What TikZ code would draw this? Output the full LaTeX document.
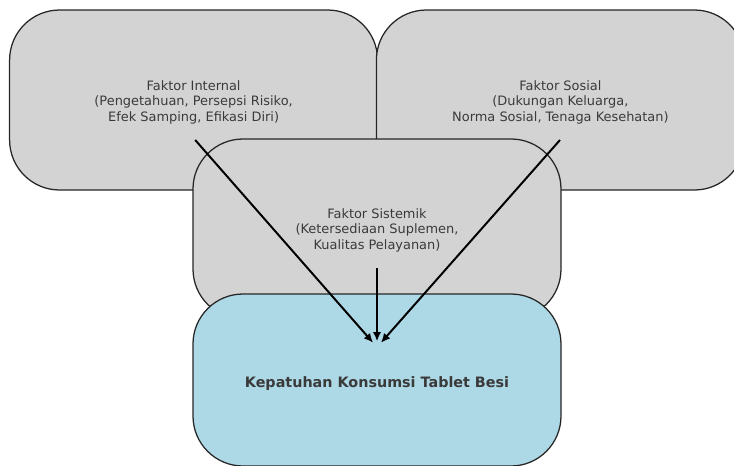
\documentclass[tikz,border=0pt]{standalone}
\usepackage{fontspec}
\setmainfont{DejaVu Sans}
\usetikzlibrary{arrows.meta}
\definecolor{boxgray}{HTML}{D3D3D3}
\definecolor{boxblue}{HTML}{ADD8E6}
\definecolor{textgray}{HTML}{3A3A3A}

\begin{document}
\begin{tikzpicture}[factor_node/.style={rectangle,rounded corners=1.25cm,draw=black!85,line width=0.9pt,fill=boxgray,minimum width=9.2cm,minimum height=4.5cm},
target_node/.style={factor_node,fill=boxblue,minimum height=4.3cm},
factor_text/.style={align=center,text=textgray,font=\fontsize{9.2}{11}\selectfont},
target_text/.style={text=textgray,font=\fontsize{10.2}{12}\selectfont\bfseries},
arrow_line/.style={-{Latex[length=2.3mm,width=2.1mm]},line width=1.4pt,shorten >=0.15cm}]

    \useasboundingbox (0,0) rectangle (18.35,-11.625);
    \clip (0,0) rectangle (18.35,-11.625);

    \node[factor_node] (internal) at (4.84,-2.5) {};
    \node[factor_node] (sosial) at (14.01,-2.5) {};
    \node[factor_node] (sistemik) at (9.425,-5.725) {};
    \node[target_node] (kepatuhan) at (9.425,-9.5) {};

    \node[factor_text] (internal_text) at (4.84,-2.55) {Faktor Internal\\(Pengetahuan, Persepsi Risiko,\\Efek Samping, Efikasi Diri)};
    \node[factor_text] (sosial_text) at (14.01,-2.55) {Faktor Sosial\\(Dukungan Keluarga,\\Norma Sosial, Tenaga Kesehatan)};
    \node[factor_text] (sistemik_text) at (9.425,-5.76) {Faktor Sistemik\\(Ketersediaan Suplemen,\\Kualitas Pelayanan)};
    \node[target_text] (kepatuhan_text) at (9.425,-9.6) {Kepatuhan Konsumsi Tablet Besi};

    % start and end points of the arrows
    \coordinate (a1) at (4.88,-3.5);
    \coordinate (a2) at (14.0,-3.5);
    \coordinate (a3) at (9.425,-6.7);
    \coordinate (t) at (9.425,-8.68);

    \draw[arrow_line] (a1) -- (t);
    \draw[arrow_line] (a3) -- (t);
    \draw[arrow_line] (a2) -- (t);

\end{tikzpicture}
\end{document}
